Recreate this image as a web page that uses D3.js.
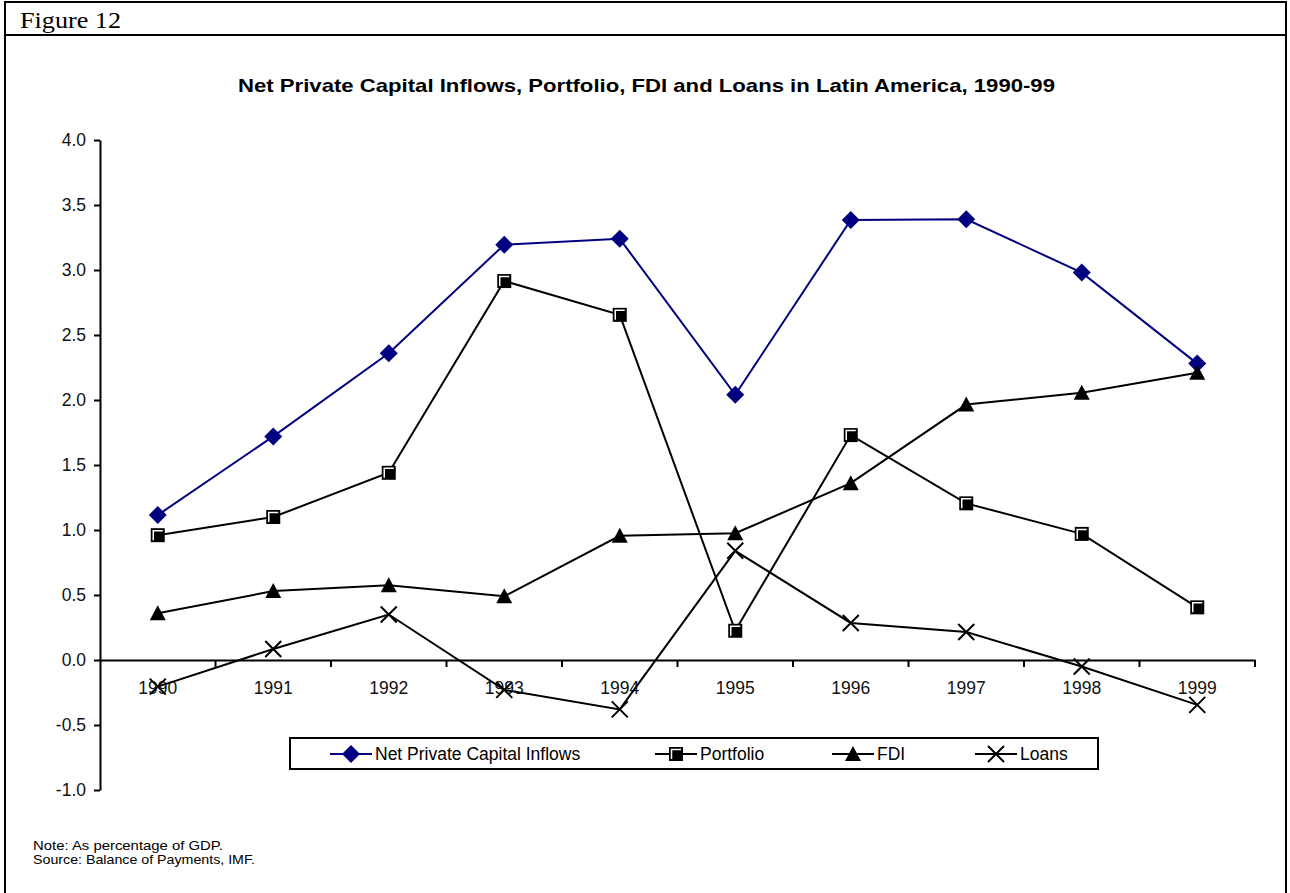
<!DOCTYPE html>
<html>
<head>
<meta charset="utf-8">
<title>Figure 12</title>
<style>
  body { margin: 0; background: #fff; }
  text { font-family: Arial, "Liberation Sans", sans-serif; }
</style>
</head>
<body>
<script src="https://d3js.org/d3.v7.min.js"></script>
<script>
// values, % of GDP
var years = ["1990","1991","1992","1993","1994","1995","1996","1997","1998","1999"];
var netInflows = [1.115, 1.72, 2.36, 3.195, 3.24, 2.04, 3.385, 3.39, 2.98, 2.28];
var portfolio  = [0.96, 1.10, 1.44, 2.915, 2.655, 0.225, 1.73, 1.205, 0.97, 0.405];
var fdi        = [0.36, 0.53, 0.575, 0.49, 0.955, 0.975, 1.36, 1.965, 2.055, 2.21];
var loans      = [-0.205, 0.085, 0.35, -0.23, -0.38, 0.84, 0.285, 0.215, -0.05, -0.345];
var yTicks = [-1, -0.5, 0, 0.5, 1, 1.5, 2, 2.5, 3, 3.5, 4];

var series = [
  {name: "Net Private Capital Inflows", values: netInflows, color: "#000080", marker: "diamond"},
  {name: "Portfolio", values: portfolio, color: "#000", marker: "square"},
  {name: "FDI", values: fdi, color: "#000", marker: "triangle"},
  {name: "Loans", values: loans, color: "#000", marker: "cross"}
];

var W = 1290, H = 893;
var svg = d3.select("body").append("svg").attr("width", W).attr("height", H);

// frame + header
svg.append("rect").attr("x", 5).attr("y", 2).attr("width", 1281).attr("height", 900)
  .attr("fill", "none").attr("stroke", "#000").attr("stroke-width", 2);
svg.append("line").attr("x1", 5).attr("x2", 1286).attr("y1", 35).attr("y2", 35)
  .attr("stroke", "#000").attr("stroke-width", 2);
svg.append("text").attr("x", 20).attr("y", 28)
  .style("font-family", "'Liberation Serif', 'Times New Roman', serif").style("font-size", "23px")
  .attr("textLength", 101).attr("lengthAdjust", "spacingAndGlyphs")
  .text("Figure 12");

svg.append("text").attr("x", 238).attr("y", 92)
  .style("font-size", "19px").style("font-weight", "bold")
  .attr("textLength", 817).attr("lengthAdjust", "spacingAndGlyphs")
  .text("Net Private Capital Inflows, Portfolio, FDI and Loans in Latin America, 1990-99");

var x = d3.scaleBand().domain(years).range([100, 1255]).padding(0);
var y = d3.scaleLinear().domain([-1, 4]).range([790, 140]);
function cx(i) { return x(years[i]) + x.bandwidth() / 2; }

// y axis
var yAxis = svg.append("g").attr("transform", "translate(100,0)")
  .call(d3.axisLeft(y).tickValues(yTicks).tickFormat(function(d) { return d.toFixed(1); })
    .tickSize(6).tickSizeOuter(0).tickPadding(8));
yAxis.select(".domain").attr("stroke-width", 2);
yAxis.selectAll(".tick line").attr("stroke-width", 2);
yAxis.selectAll("text").style("font-size", "17.5px").attr("fill", "#111")
  .style("font-family", "Arial, 'Liberation Sans', sans-serif");

// x axis at zero
var xAxis = svg.append("g").attr("transform", "translate(0," + y(0) + ")")
  .call(d3.axisBottom(x).tickSize(0).tickSizeOuter(0).tickPadding(22));
xAxis.select(".domain").attr("stroke-width", 2);
xAxis.selectAll("text").style("font-size", "17.5px").attr("fill", "#111")
  .style("font-family", "Arial, 'Liberation Sans', sans-serif");
var bounds = years.map(function(d) { return x(d) + x.bandwidth(); });
svg.append("g").selectAll("line").data(bounds).enter().append("line")
  .attr("x1", function(d) { return d; }).attr("x2", function(d) { return d; })
  .attr("y1", y(0)).attr("y2", y(0) + 7)
  .attr("stroke", "#000").attr("stroke-width", 2);

function drawMarker(g, type, color) {
  if (type === "diamond") {
    g.append("path").attr("d", "M0,-9L9,0L0,9L-9,0Z").attr("fill", color);
  } else if (type === "square") {
    g.append("rect").attr("x", -7).attr("y", -7).attr("width", 14).attr("height", 14).attr("fill", "#000");
    g.append("path").attr("d", "M-4.5,5V-4.5H5").attr("fill", "none").attr("stroke", "#fff").attr("stroke-width", 1.5);
  } else if (type === "triangle") {
    g.append("path").attr("d", "M0,-8L8,7L-8,7Z").attr("fill", "#000");
  } else {
    g.append("path").attr("d", "M-8,-8L8,8M-8,8L8,-8").attr("stroke", "#000").attr("stroke-width", 2);
  }
}

var line = d3.line().x(function(d, i) { return cx(i); }).y(function(d) { return y(d); });

series.forEach(function(s) {
  svg.append("path").datum(s.values).attr("d", line)
    .attr("fill", "none").attr("stroke", s.color).attr("stroke-width", 2);
  s.values.forEach(function(v, i) {
    var g = svg.append("g").attr("transform", "translate(" + cx(i) + "," + y(v) + ")");
    drawMarker(g, s.marker, s.color);
  });
});

// legend
svg.append("rect").attr("x", 290).attr("y", 738).attr("width", 808).attr("height", 31)
  .attr("fill", "#fff").attr("stroke", "#000").attr("stroke-width", 2);
var legendX = [330, 655, 832, 975];
series.forEach(function(s, i) {
  var lx = legendX[i], ly = 754;
  svg.append("line").attr("x1", lx).attr("x2", lx + 42).attr("y1", ly).attr("y2", ly)
    .attr("stroke", s.color).attr("stroke-width", 2);
  var g = svg.append("g").attr("transform", "translate(" + (lx + 21) + "," + ly + ")");
  drawMarker(g, s.marker, s.color);
  svg.append("text").attr("x", lx + 45).attr("y", ly + 6).style("font-size", "17.5px").text(s.name);
});

// notes
svg.append("text").attr("x", 33).attr("y", 850).style("font-size", "13px")
  .attr("textLength", 190).attr("lengthAdjust", "spacingAndGlyphs").text("Note: As percentage of GDP.");
svg.append("text").attr("x", 33).attr("y", 864).style("font-size", "13px")
  .attr("textLength", 222).attr("lengthAdjust", "spacingAndGlyphs").text("Source: Balance of Payments, IMF.");
</script>
</body>
</html>
